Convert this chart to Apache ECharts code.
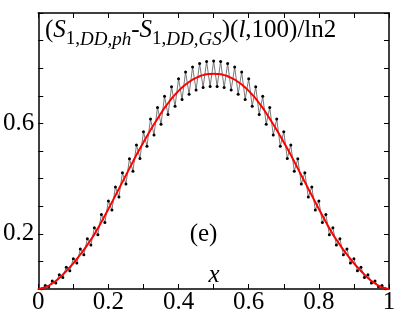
<!DOCTYPE html>
<html>
<head>
<meta charset="utf-8">
<script src="https://cdn.jsdelivr.net/npm/echarts@6/dist/echarts.min.js"></script>
<style>html,body{margin:0;padding:0;background:#fff}#c{width:407px;height:315px}</style>
</head>
<body>
<div id="c"></div>
<script>
// red smooth curve, x = 0, 0.01, ..., 1
var redValues = [0, .002, .006, .012, .020, .029, .040, .052, .065, .079, .093, .109, .125, .142, .160, .179, .198, .220, .243, .266, .290, .314, .339, .363, .388, .412, .437, .461, .486, .509, .532, .554, .576, .597, .617, .637, .656, .673, .690, .704, .718, .730, .741, .750, .759, .765, .771, .775, .778, .779, .780,
  .779, .778, .775, .771, .765, .759, .750, .741, .730, .718, .704, .690, .673, .656, .637, .617, .597, .576, .554, .532, .509, .486, .461, .437, .412, .388, .363, .339, .314, .290, .266, .243, .220, .198, .179, .160, .142, .125, .109, .093, .079, .065, .052, .040, .029, .020, .012, .006, .002, 0];
// black points, l = 1..99 (x = l/100)
var blackValues = [.001, .013, .008, .029, .022, .052, .042, .079, .066, .110, .094, .145, .124, .182, .159, .222, .197, .270, .241, .319, .286, .370, .333, .421, .380, .472, .427, .522, .473, .570, .517, .616, .558, .658, .597, .698, .632, .733, .662, .762, .687, .786, .706, .804, .721, .817, .730, .824, .734, .826,
  .734, .824, .730, .817, .721, .804, .706, .786, .687, .762, .662, .733, .632, .698, .597, .658, .558, .616, .517, .570, .473, .522, .427, .472, .380, .421, .333, .370, .286, .319, .241, .270, .197, .222, .159, .182, .124, .145, .094, .110, .066, .079, .042, .052, .022, .029, .008, .013, .001];
var xTickLabels = ['0', '0.2', '0.4', '0.6', '0.8', '1'];
var yTickLabels = ['0.2', '0.6'];
var N = 100;

var redData = redValues.map(function (v, i) { return [i / N, v]; });
var blackData = blackValues.map(function (v, i) { return [(i + 1) / N, v]; });

function fmt(v) {
  return String(Math.round(v * 10) / 10);
}
var font = 'Liberation Serif, Times New Roman, serif';
function axisCommon(pos, labels, show) {
  return {
    type: 'value', min: 0, max: 1, interval: 0.1, position: pos,
    axisLine: { show: true, onZero: false, lineStyle: { color: '#000', width: 1.5 } },
    axisTick: { show: true, inside: true, length: 5, lineStyle: { color: '#000', width: 1 } },
    splitLine: { show: false },
    axisLabel: {
      show: show, color: '#000', fontFamily: font, fontSize: 25, margin: pos === 'bottom' ? 1 : 4,
      formatter: function (v) { var s = fmt(v); return labels.indexOf(s) >= 0 ? s : ''; }
    }
  };
}

var chart = echarts.init(document.getElementById('c'));
chart.setOption({
  animation: false,
  backgroundColor: '#fff',
  grid: { left: 38, right: 18, top: 13, bottom: 25 },
  xAxis: [axisCommon('bottom', xTickLabels, true), axisCommon('top', xTickLabels, false)],
  yAxis: [axisCommon('left', yTickLabels, true), axisCommon('right', yTickLabels, false)],
  series: [
    {
      type: 'line', data: blackData, xAxisIndex: 0, yAxisIndex: 0,
      symbol: 'circle', symbolSize: 3, showSymbol: true,
      itemStyle: { color: '#000' },
      lineStyle: { color: '#555', width: 0.8 }, z: 2
    },
    {
      type: 'line', data: redData, xAxisIndex: 0, yAxisIndex: 0,
      smooth: 0.3, symbol: 'none',
      lineStyle: { color: '#ff0000', width: 2 }, z: 3
    }
  ],
  graphic: [
    {
      type: 'text', left: 45, top: 18, z: 10,
      style: {
        text: '{n|(}{i|S}{s|1,}{si|DD,ph}{n|-}{i|S}{s|1,}{si|DD,GS}{n|)(}{i|l}{n|,100)/ln2}',
        rich: {
          n: { fontFamily: font, fontSize: 25, lineHeight: 26, verticalAlign: 'top', fill: '#000' },
          i: { fontFamily: font, fontSize: 25, lineHeight: 26, verticalAlign: 'top', fontStyle: 'italic', fill: '#000' },
          s: { fontFamily: font, fontSize: 19, lineHeight: 19, padding: [12, 0, 0, 0], verticalAlign: 'top', fill: '#000' },
          si: { fontFamily: font, fontSize: 19, lineHeight: 19, padding: [12, 0, 0, 0], verticalAlign: 'top', fontStyle: 'italic', fill: '#000' }
        }
      }
    },
    {
      type: 'text', x: 203.5, y: 234, z: 10,
      style: { text: '(e)', fontFamily: font, fontSize: 25, fill: '#000', align: 'center', verticalAlign: 'middle' }
    },
    {
      type: 'text', x: 214, y: 275, z: 10,
      style: { text: 'x', fontFamily: font, fontSize: 25, fontStyle: 'italic', fill: '#000', align: 'center', verticalAlign: 'middle' }
    }
  ]
});
</script>
</body>
</html>
